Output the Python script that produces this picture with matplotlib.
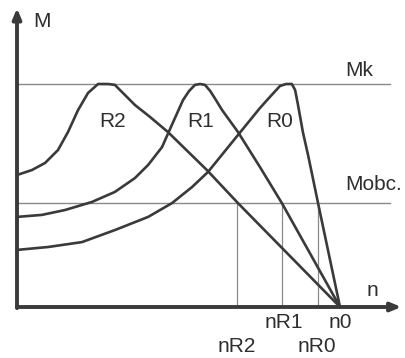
import numpy as np
import matplotlib.pyplot as plt

# === Data (n normalised to n0 = 1, M normalised to Mk = 1) ===
n_R2 = [0.0, 0.046, 0.087, 0.127, 0.158, 0.189, 0.220, 0.251, 0.282, 0.303, 0.334, 0.365,
        0.412, 0.467, 0.588, 0.684, 1.0]
M_R2 = [0.592, 0.614, 0.646, 0.704, 0.785, 0.883, 0.960, 1.0, 1.0, 0.996, 0.951, 0.906,
        0.852, 0.785, 0.614, 0.466, 0.0]

n_R1 = [0.0, 0.077, 0.149, 0.232, 0.303, 0.365, 0.406, 0.449, 0.467, 0.492, 0.514, 0.533,
        0.551, 0.567, 0.582, 0.598, 0.616, 0.635, 0.684, 0.752, 0.820, 1.0]
M_R1 = [0.404, 0.413, 0.435, 0.471, 0.516, 0.578, 0.637, 0.717, 0.776, 0.857, 0.928, 0.969,
        0.996, 1.0, 0.996, 0.969, 0.928, 0.883, 0.785, 0.628, 0.466, 0.0]

n_R0 = [0.0, 0.096, 0.201, 0.303, 0.406, 0.480, 0.542, 0.591, 0.684, 0.752, 0.783, 0.814,
        0.833, 0.851, 0.861, 0.870, 0.885, 0.901, 0.916, 0.932, 1.0]
M_R0 = [0.256, 0.269, 0.291, 0.345, 0.404, 0.466, 0.538, 0.605, 0.771, 0.892, 0.942, 0.991,
        1.0, 1.0, 0.973, 0.906, 0.785, 0.682, 0.578, 0.466, 0.0]

Mk = 1.0
Mobc = 0.466
n_marks = {"nR2": 0.681, "nR1": 0.820, "nR0": 0.932}

curve_labels = ["R2", "R1", "R0"]
label_pos = [(0.297, 0.830), (0.567, 0.830), (0.814, 0.830)]

# === Figure ===
fig = plt.figure(figsize=(4.06, 3.58), dpi=100)
ax = fig.add_axes([0, 0, 1, 1])
ax.set_xlim(-17 / 323, (406 - 17) / 323)
ax.set_ylim(-(358 - 307) / 223, 307 / 223)
ax.axis('off')

dark = '#3a3a3a'
grey = '#8a8a8a'
font = dict(family='Liberation Sans', fontsize=15, color='#2e2e2e')

# reference lines
x_end = 1.155
ax.plot([0, x_end], [Mk, Mk], color=grey, lw=1)
ax.plot([0, x_end], [Mobc, Mobc], color=grey, lw=1)
for v in n_marks.values():
    ax.plot([v, v], [0, Mobc], color=grey, lw=0.9)

# curves
for n, M in [(n_R2, M_R2), (n_R1, M_R1), (n_R0, M_R0)]:
    ax.plot(n, M, color=dark, lw=1.9, solid_joinstyle='round')

# axes with arrows
ax.annotate('', xy=(1.19, 0), xytext=(0, 0),
            arrowprops=dict(arrowstyle='-|>,head_length=0.6,head_width=0.25', lw=2.8, color=dark,
                            shrinkA=0, shrinkB=0))
ax.annotate('', xy=(0, 1.34), xytext=(0, -0.005),
            arrowprops=dict(arrowstyle='-|>,head_length=0.6,head_width=0.25', lw=2.8, color=dark,
                            shrinkA=0, shrinkB=0))

# texts
ax.text(0.077, 1.28, "M", ha='center', va='center', **font)
ax.text(1.015, (307 - 71) / 223, "Mk", ha='left', va='center', **font)
ax.text(1.015, (307 - 185) / 223, "Mobc.", ha='left', va='center', **font)
ax.text(1.099, (307 - 291) / 223, "n", ha='center', va='center', **font)
for lab, (x, y) in zip(curve_labels, label_pos):
    ax.text(x, y, lab, ha='center', va='center', **font)

ax.text((284 - 17) / 323, (307 - 323) / 223, "nR1", ha='center', va='center', **font)
ax.text((340 - 17) / 323, (307 - 323) / 223, "n0", ha='center', va='center', **font)
ax.text((237 - 17) / 323, (307 - 346) / 223, "nR2", ha='center', va='center', **font)
ax.text((317 - 17) / 323, (307 - 346) / 223, "nR0", ha='center', va='center', **font)

fig.savefig("out.png", dpi=100, facecolor='white')
